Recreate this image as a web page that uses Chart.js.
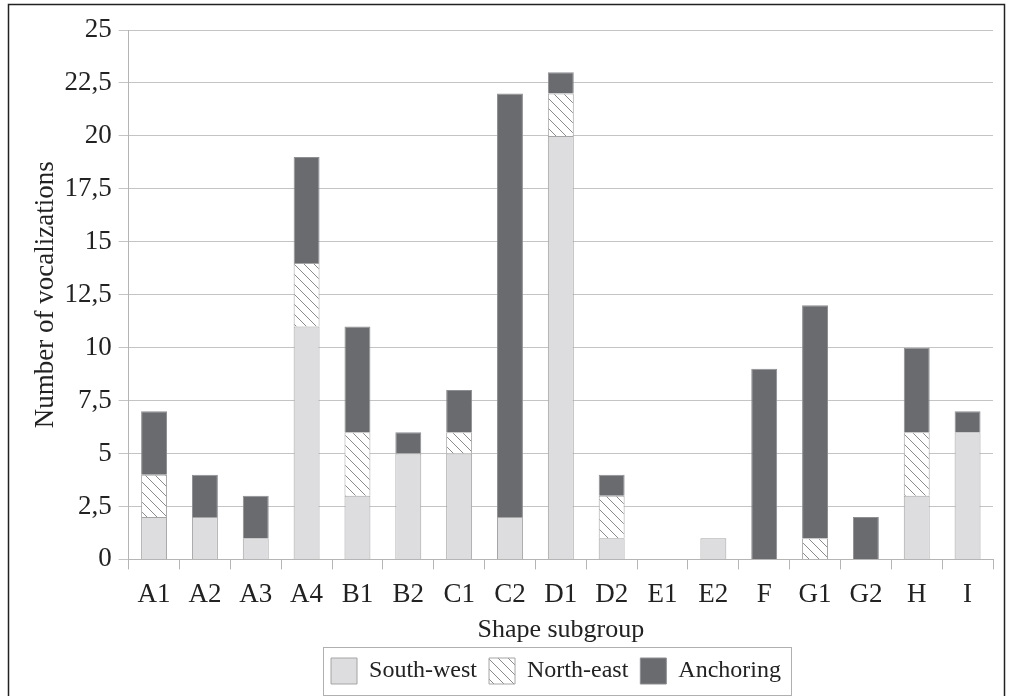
<!DOCTYPE html>
<html>
<head>
    <title>Shape subgroup</title>
    <script src="https://cdn.jsdelivr.net/npm/chart.js"></script>
    <style>
        body { margin: 0; background: #fff; }
    </style>
</head>
<body>
    <canvas id="chart" width="1011" height="696"></canvas>

    <script>
        var categories = ['A1', 'A2', 'A3', 'A4', 'B1', 'B2', 'C1', 'C2', 'D1', 'D2', 'E1', 'E2', 'F', 'G1', 'G2', 'H', 'I'];
        var southWest = [2, 2, 1, 11, 3, 5, 5, 2, 20, 1, 0, 1, 0, 0, 0, 3, 6];
        var northEast = [2, 0, 0, 3, 3, 0, 1, 0, 2, 2, 0, 0, 0, 1, 0, 3, 0];
        var anchoring = [3, 2, 2, 5, 5, 1, 2, 20, 1, 1, 0, 0, 9, 11, 2, 4, 1];
        var yTicks = [0, 2.5, 5, 7.5, 10, 12.5, 15, 17.5, 20, 22.5, 25];

        var serif = "'Liberation Serif', 'DejaVu Serif', serif";
        var legendPad = 12;
        var ctx = document.getElementById('chart').getContext('2d');

        // diagonal hatch for the North-east series
        function hatch() {
            var c = document.createElement('canvas');
            c.width = 10;
            c.height = 10;
            var g = c.getContext('2d');
            g.fillStyle = '#ffffff';
            g.fillRect(0, 0, 10, 10);
            g.strokeStyle = '#8a8a8a';
            g.lineWidth = 1;
            g.beginPath();
            g.moveTo(-2, -2); g.lineTo(12, 12);
            g.moveTo(-2, 8); g.lineTo(2, 12);
            g.moveTo(8, -2); g.lineTo(12, 2);
            g.stroke();
            return g.createPattern(c, 'repeat');
        }

        var frame = {
            id: 'frame',
            afterLayout: function(chart) {
                // center the legend under the plot instead of the canvas
                var lg = chart.legend;
                var dx = 556 - (lg.left + lg.right) / 2;
                lg.left += dx;
                lg.right += dx;
            },
            beforeDraw: function(chart) {
                var c = chart.ctx;
                c.save();
                c.fillStyle = '#fff';
                c.fillRect(0, 0, chart.width, chart.height);
                c.strokeStyle = '#222';
                c.lineWidth = 1.5;
                c.strokeRect(8.5, 4.5, 996, 700);
                c.restore();
            },
            afterDraw: function(chart) {
                var lg = chart.legend;
                var lw = lg.lineWidths[0];
                var rowLeft = (lg.left + legendPad + lg.right - lw) / 2;
                var rowRight = rowLeft + lw - legendPad;
                var top = lg.top + legendPad;
                var c = chart.ctx;
                c.save();
                c.strokeStyle = '#b0b0b0';
                c.lineWidth = 1;
                c.strokeRect(Math.round(rowLeft - 8) + 0.5, Math.round(top - 11) + 0.5,
                    Math.round(rowRight - rowLeft + 18), 48);
                c.restore();
            }
        };

        var chart = new Chart(ctx, {
            type: 'bar',
            data: {
                labels: categories,
                datasets: [{
                    label: 'South-west',
                    data: southWest,
                    backgroundColor: '#dddddf',
                    borderColor: '#a5a5a5',
                    borderWidth: 1
                }, {
                    label: 'North-east',
                    data: northEast,
                    backgroundColor: hatch(),
                    borderColor: '#a5a5a5',
                    borderWidth: 1
                }, {
                    label: 'Anchoring',
                    data: anchoring,
                    backgroundColor: '#6a6b6f',
                    borderColor: '#8e8f92',
                    borderWidth: 1
                }]
            },
            options: {
                responsive: false,
                animation: false,
                datasets: {
                    bar: { barPercentage: 0.51, categoryPercentage: 1 }
                },
                layout: { padding: { top: 30, right: 18, left: 30, bottom: 2 } },
                plugins: {
                    tooltip: { enabled: false },
                    legend: {
                        position: 'bottom',
                        labels: {
                            color: '#222',
                            font: { family: serif, size: 24 },
                            boxWidth: 26,
                            boxHeight: 26,
                            padding: legendPad
                        }
                    }
                },
                scales: {
                    x: {
                        stacked: true,
                        grid: {
                            offset: true,
                            drawOnChartArea: false,
                            drawTicks: true,
                            tickLength: 10,
                            color: '#b5b5b5'
                        },
                        border: { color: '#b5b5b5' },
                        ticks: {
                            color: '#222',
                            font: { family: serif, size: 27 },
                            padding: 9,
                            maxRotation: 0
                        },
                        title: {
                            display: true,
                            text: 'Shape subgroup',
                            color: '#222',
                            font: { family: serif, size: 26 },
                            padding: { top: -5, bottom: 0 }
                        }
                    },
                    y: {
                        stacked: true,
                        min: 0,
                        max: 25,
                        afterBuildTicks: function(axis) {
                            axis.ticks = yTicks.map(function(v) { return { value: v }; });
                        },
                        grid: {
                            color: '#c4c4c4',
                            tickLength: 10
                        },
                        border: { color: '#b5b5b5' },
                        ticks: {
                            color: '#222',
                            font: { family: serif, size: 27 },
                            padding: 7,
                            callback: function(v) { return String(v).replace('.', ','); }
                        },
                        title: {
                            display: true,
                            text: 'Number of vocalizations',
                            color: '#222',
                            font: { family: serif, size: 27 },
                            padding: { top: 0, bottom: -5 }
                        }
                    }
                }
            },
            plugins: [frame]
        });
    </script>
</body>
</html>
